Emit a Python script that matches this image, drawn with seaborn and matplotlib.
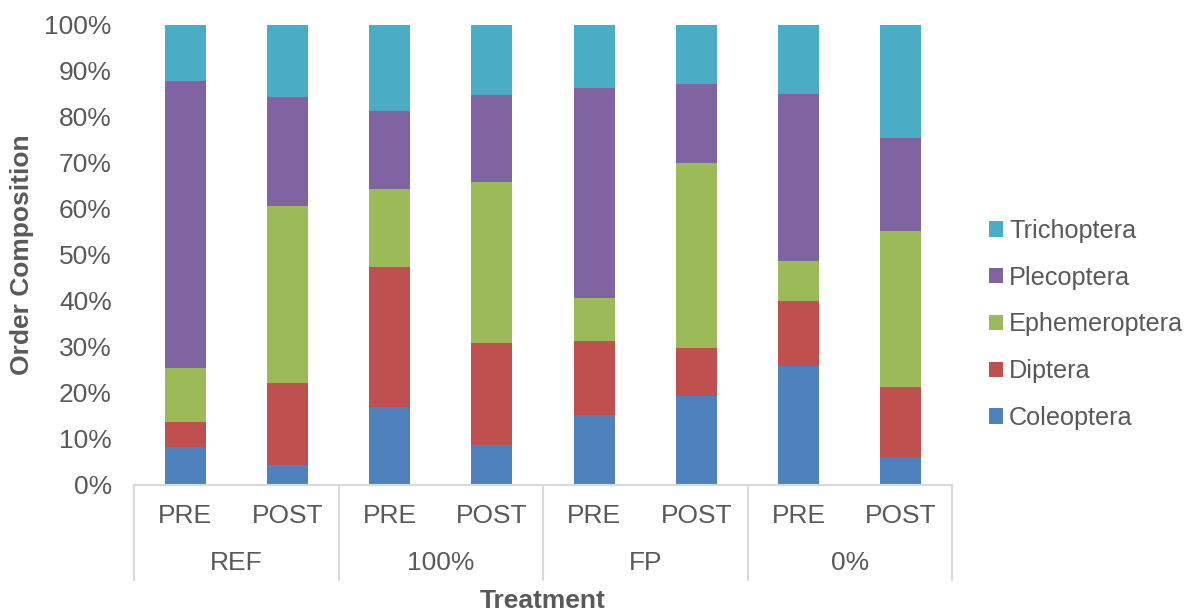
import matplotlib
matplotlib.use("Agg")
import matplotlib.pyplot as plt
import matplotlib.transforms as mtransforms
from matplotlib.patches import Patch
import seaborn as sns
import pandas as pd
import numpy as np

# ---- data (percent of order composition) ----
groups = ["REF", "100%", "FP", "0%"]
periods = ["PRE", "POST"]
orders = ["Coleoptera", "Diptera", "Ephemeroptera", "Plecoptera", "Trichoptera"]
coleoptera    = [8.2, 4.3, 16.9, 8.6, 15.3, 19.3, 25.8, 5.8]
diptera       = [5.4, 17.8, 30.4, 22.2, 16.1, 10.5, 14.1, 15.5]
ephemeroptera = [11.8, 38.5, 17.0, 35.0, 9.2, 40.2, 8.7, 33.9]
plecoptera    = [62.4, 23.7, 17.0, 19.0, 45.7, 17.2, 36.4, 20.2]
trichoptera   = [12.2, 15.7, 18.7, 15.2, 13.7, 12.8, 15.0, 24.6]
colors = ["#4F81BD", "#C0504D", "#9BBB59", "#8064A2", "#4BACC6"]

sns.set_theme(style="white")
plt.rcParams["font.family"] = ["Liberation Sans", "DejaVu Sans"]
TXT = "#595959"
FS = 19

bars = [f"{g}|{p}" for g in groups for p in periods]
vals = np.array([coleoptera, diptera, ephemeroptera, plecoptera, trichoptera])
cum = np.cumsum(vals, axis=0) / 100.0

fig = plt.figure(figsize=(11.85, 6.11), dpi=100)
W, H = 1185, 611
x0, x1, ytop, ybot = 134, 952, 25, 485
ax = fig.add_axes([x0 / W, 1 - ybot / H, (x1 - x0) / W, (ybot - ytop) / H])

for i in range(len(orders) - 1, -1, -1):
    df = pd.DataFrame({"bar": bars, "val": cum[i]})
    sns.barplot(data=df, x="bar", y="val", order=bars, color=colors[i],
                saturation=1, width=0.4, ax=ax, linewidth=0, errorbar=None)

ax.set_xlim(-0.5, len(bars) - 0.5)
ax.set_ylim(0, 1)
ax.set_yticks(np.arange(0, 1.01, 0.1))
ax.set_yticklabels([f"{int(round(t * 100))}%" for t in np.arange(0, 1.01, 0.1)],
                   fontsize=FS, color=TXT)
ax.tick_params(axis="y", length=0, pad=16)
ax.set_xticks([])
ax.set_xlabel("")
ax.set_ylabel("")
for s in ["top", "right", "left"]:
    ax.spines[s].set_visible(False)
ax.spines["bottom"].set_color("#D9D9D9")
ax.spines["bottom"].set_linewidth(1.5)

ah = ybot - ytop
trans = mtransforms.blended_transform_factory(ax.transData, ax.transAxes)
# separator lines
for k in range(len(groups) + 1):
    xs = k * 2 - 0.5
    ax.plot([xs, xs], [0, -(580 - ybot) / ah], color="#D9D9D9", lw=1.5,
            transform=trans, clip_on=False)
# inner labels
for j, b in enumerate(bars):
    ax.text(j, -(516 - ybot) / ah, b.split("|")[1], transform=trans,
            ha="center", va="center", fontsize=FS, color=TXT)
for k, g in enumerate(groups):
    ax.text(2 * k + 0.5, -(563 - ybot) / ah, g, transform=trans,
            ha="center", va="center", fontsize=FS, color=TXT)

fig.text((x0 + x1) / 2 / W, 1 - 601 / H, "Treatment", ha="center", va="center",
         fontsize=FS, fontweight="bold", color=TXT)
fig.text(22 / W, 1 - 255 / H, "Order Composition", ha="center", va="center",
         rotation=90, fontsize=FS, fontweight="bold", color=TXT)

handles = [Patch(facecolor=colors[i], edgecolor="none", label=orders[i])
           for i in range(len(orders) - 1, -1, -1)]
LFS = 18.2
leg = fig.legend(handles=handles, loc="center left",
                 bbox_to_anchor=(989 / W, 1 - 324.5 / H), frameon=False,
                 fontsize=LFS, handlelength=0.55, handleheight=0.55,
                 handletextpad=0.25, labelspacing=0.9, borderpad=0,
                 borderaxespad=0)
for t in leg.get_texts():
    t.set_color(TXT)

fig.savefig("out.png", dpi=100)
